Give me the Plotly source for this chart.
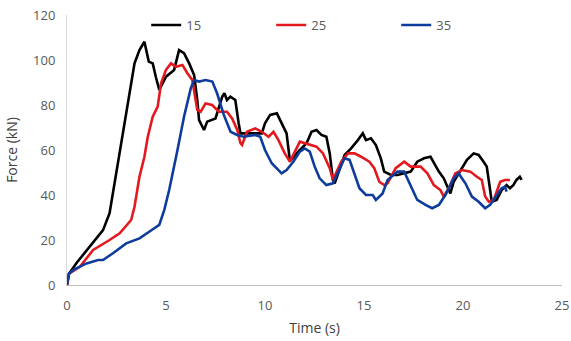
import plotly.graph_objects as go

t15 = [0, 0.1, 0.5, 1.0, 1.5, 1.82, 2.15, 2.4, 2.66, 2.99, 3.2, 3.41, 3.66, 3.91, 4.13,
       4.33, 4.5, 4.66, 5.0, 5.41, 5.66, 5.91, 6.17, 6.42, 6.58, 6.67, 6.92, 7.08, 7.5, 7.84,
       7.95, 8.08, 8.25, 8.5, 8.67, 8.76, 9.17, 9.84, 10.0, 10.26, 10.6, 10.76, 11.09, 11.26, 11.68,
       12.1, 12.35, 12.6, 12.85, 13.1, 13.27, 13.43, 13.52, 14.02, 14.35, 14.69, 14.94, 15.1, 15.35, 15.6,
       15.85, 16.02, 16.36, 16.69, 17.03, 17.36, 17.69, 18.03, 18.36, 18.53, 18.78, 19.03, 19.28, 19.36, 19.53,
       19.87, 20.2, 20.54, 20.79, 21.04, 21.2, 21.37, 21.45, 21.7, 21.95, 22.2, 22.37, 22.54, 22.7, 22.87, 22.96]
f15 = [0, 5, 10, 15.5, 21, 24.4, 31.9, 45, 60, 76.3, 88, 98.5, 104.4, 108.1, 99.3,
       98.5, 92, 86.7, 92.6, 95.6, 104.4, 103, 98.5, 93.3, 82.2, 73.3, 68.9, 72.6, 74, 83.7,
       85.2, 82.2, 83.7, 82.2, 71.9, 67.4, 67.4, 67.4, 71.9, 75.6, 76.3, 73.3, 67.4, 55, 59.3,
       63, 68.1, 68.9, 66.7, 65.9, 58.5, 46.7, 45.2, 57.8, 60.7, 64.4, 67.4, 64.4, 65.2, 62.2,
       56.3, 50.4, 48.9, 48.9, 49.6, 50.4, 54.8, 56.3, 57, 54.1, 50.4, 47.4, 42.2, 40.7, 45.9,
       51.1, 55.6, 58.5, 57.8, 54.8, 52.6, 42.2, 37, 37.8, 42.2, 44.4, 43, 44.4, 46.7, 48.1, 46.7]

t25 = [0, 0.1, 0.65, 1.32, 2.15, 2.66, 3.24, 3.41, 3.66, 3.91, 4.08, 4.33, 4.58, 4.75, 5.0,
       5.25, 5.5, 5.83, 6.08, 6.33, 6.58, 6.75, 7.0, 7.33, 7.67, 8.08, 8.34, 8.6, 8.76, 8.84,
       9.09, 9.51, 9.84, 10.18, 10.43, 10.68, 11.0, 11.26, 11.76, 12.26, 12.6, 12.93, 13.27, 13.43, 13.85,
       14.19, 14.52, 14.85, 15.27, 15.52, 15.77, 16.02, 16.19, 16.6, 17.03, 17.36, 17.86, 18.2, 18.53, 18.86,
       19.03, 19.28, 19.61, 19.95, 20.37, 20.7, 20.95, 21.12, 21.3, 21.55, 21.88, 22.12, 22.37]
f25 = [0, 5, 8.1, 15.6, 20, 23, 28.9, 34.8, 48.1, 57, 65.9, 74.8, 79.3, 89.6, 95.6,
       98.5, 97, 97.8, 94.1, 91.1, 77.8, 77, 80.7, 80, 77, 77, 74, 68.9, 63, 62.2,
       68.1, 69.6, 68.1, 65.9, 68.1, 64.4, 58.5, 54.8, 63.7, 62.2, 61.5, 58.5, 51.9, 46.7, 54.8,
       58.5, 58.5, 57, 54.8, 51.9, 45.9, 44.4, 45.2, 51.9, 54.8, 52.6, 52.6, 49.6, 44.4, 42.2,
       39.3, 43, 49.6, 51.1, 50.4, 48.1, 46.7, 39.3, 37, 37.8, 45.9, 46.7, 46.7]

t35 = [0, 0.1, 0.32, 0.99, 1.57, 1.82, 2.32, 2.99, 3.66, 4.08, 4.41, 4.66, 4.91, 5.16, 5.41,
       5.58, 5.91, 6.25, 6.42, 6.67, 7.0, 7.34, 7.58, 7.92, 8.26, 8.59, 8.92, 9.51, 9.76, 10.0,
       10.34, 10.6, 10.84, 11.09, 11.43, 11.76, 12.01, 12.26, 12.51, 12.76, 13.1, 13.43, 13.77, 14.02, 14.27,
       14.52, 14.77, 15.1, 15.44, 15.6, 15.94, 16.19, 16.69, 17.03, 17.36, 17.69, 18.11, 18.44, 18.78, 19.11,
       19.53, 19.78, 20.12, 20.45, 20.79, 21.12, 21.37, 21.7, 21.95, 22.12, 22.2]
f35 = [0, 5, 6.7, 9.6, 11.1, 11.1, 14.1, 18.5, 20.7, 23, 25.2, 26.7, 33.3, 42.2, 52,
       60, 74.8, 87.4, 91.1, 90.4, 91.1, 90.4, 85.2, 75.6, 68.1, 66.7, 65.9, 66.7, 65.9, 60,
       54.1, 51.9, 49.6, 51.1, 54.8, 59.3, 60.7, 59.3, 52.6, 47.4, 44.4, 45.2, 51.9, 56.3, 55.6,
       49.6, 43, 40, 40, 37.8, 40.7, 46.7, 50.4, 50.4, 43.7, 37.8, 35.6, 34.1, 35.6, 40,
       47.4, 49.6, 45.2, 39.3, 37, 34.1, 35.6, 40, 43, 43.7, 41.5]

names = ["15", "25", "35"]
colors = ["#000000", "#e3191f", "#0d3c9c"]
series = [(t15, f15), (t25, f25), (t35, f35)]

fig = go.Figure()
for (tx, fy), nm, c in zip(series, names, colors):
    fig.add_trace(go.Scatter(x=tx, y=fy, mode="lines", name=nm,
                             line=dict(color=c, width=2.6)))

font = dict(family="Open Sans, Lato, sans-serif", size=13, color="#595959")
fig.update_layout(
    width=571, height=341,
    margin=dict(l=67, r=9, t=15, b=56),
    plot_bgcolor="white", paper_bgcolor="white",
    font=font,
    showlegend=True,
    legend=dict(orientation="h", x=0.16, y=0.963, xanchor="left", yanchor="middle",
                entrywidth=80, entrywidthmode="pixels",
                font=dict(size=13, color="#595959"), bgcolor="rgba(0,0,0,0)"),
    xaxis=dict(range=[0, 25], dtick=5, showgrid=False, zeroline=False,
               showline=True, linecolor="#bfbfbf", linewidth=1, ticks="",
               ticklabelstandoff=8, ticklabeloverflow="allow", automargin=False,
               title=dict(text="Time (s)", font=dict(size=14, color="#404040"), standoff=10),
               tickfont=dict(size=13, color="#595959")),
    yaxis=dict(range=[0, 120], dtick=20, showgrid=False, zeroline=False,
               showline=True, linecolor="#d9d9d9", linewidth=1, ticks="",
               ticklabelstandoff=8, automargin=False,
               title=dict(text="Force (kN)", font=dict(size=14, color="#404040"), standoff=12),
               tickfont=dict(size=13, color="#595959")),
)
fig.write_html("out.html")
